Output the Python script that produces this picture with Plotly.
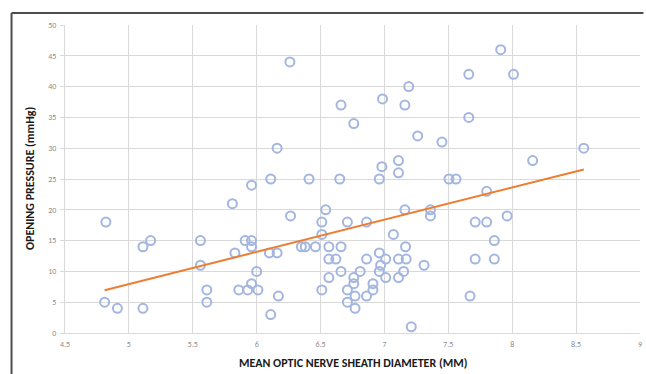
import numpy as np
import plotly.graph_objects as go

# Mean optic nerve sheath diameter (mm)
onsd = [4.82, 4.81, 4.91, 5.11, 5.17, 5.11, 5.56, 5.56, 5.61, 5.61,
        5.81, 5.83, 5.86, 5.91, 5.93, 5.96, 5.96, 5.96, 5.96, 6.00,
        6.01, 6.11, 6.10, 6.11, 6.16, 6.16, 6.17, 6.26, 6.265, 6.35,
        6.38, 6.41, 6.46, 6.51, 6.51, 6.54, 6.51, 6.565, 6.565, 6.62,
        6.565, 6.65, 6.66, 6.66, 6.66, 6.71, 6.71, 6.71, 6.76, 6.76,
        6.76, 6.77, 6.77, 6.81, 6.86, 6.86, 6.86, 6.91, 6.91, 6.96,
        6.985, 6.98, 6.96, 6.97, 6.96, 7.01, 7.01, 7.07, 7.11, 7.11,
        7.11, 7.11, 7.16, 7.19, 7.16, 7.165, 7.17, 7.15, 7.21, 7.26,
        7.31, 7.36, 7.36, 7.45, 7.505, 7.56, 7.66, 7.66, 7.67, 7.71,
        7.71, 7.80, 7.80, 7.86, 7.86, 7.91, 7.96, 8.01, 8.16, 8.56]

# Opening pressure (mmHg)
pressure = [18, 5, 4, 14, 15, 4, 15, 11, 7, 5,
            21, 13, 7, 15, 7, 8, 24, 15, 14, 10,
            7, 25, 13, 3, 30, 13, 6, 44, 19, 14,
            14, 25, 14, 18, 16, 20, 7, 14, 12, 12,
            9, 25, 37, 14, 10, 18, 7, 5, 34, 9,
            8, 6, 4, 10, 18, 12, 6, 8, 7, 25,
            38, 27, 13, 11, 10, 12, 9, 16, 28, 26,
            12, 9, 37, 40, 20, 14, 12, 10, 1, 32,
            11, 20, 19, 31, 25, 25, 42, 35, 6, 18,
            12, 23, 18, 15, 12, 46, 19, 42, 28, 30]

x_ticks = [4.5, 5, 5.5, 6, 6.5, 7, 7.5, 8, 8.5, 9]
y_ticks = [0, 5, 10, 15, 20, 25, 30, 35, 40, 45, 50]

x_title = "MEAN OPTIC NERVE SHEATH DIAMETER (MM)"
y_title = "OPENING PRESSURE (mmHg)"

xa = np.array(onsd)
ya = np.array(pressure)
slope, intercept = np.polyfit(xa, ya, 1)
trend_x = [xa.min(), xa.max()]
trend_y = [slope * v + intercept for v in trend_x]

title_font = dict(family="Carlito, 'Liberation Sans Narrow', Lato, sans-serif",
                  size=12, color="#1a1a1a")
tick_font = dict(family="Carlito, 'Liberation Sans Narrow', Lato, sans-serif",
                 size=8, color="#8c8c8c")

fig = go.Figure()
fig.add_trace(go.Scatter(
    x=onsd, y=pressure, mode="markers",
    marker=dict(symbol="circle-open", size=9, color="#a3b6e0",
                line=dict(width=2, color="#a3b6e0")),
    showlegend=False, hoverinfo="x+y"))
fig.add_trace(go.Scatter(
    x=trend_x, y=trend_y, mode="lines",
    line=dict(color="#ED7D31", width=2), showlegend=False))

fig.update_xaxes(range=[4.5, 9], tickvals=x_ticks, ticktext=[f"{v:g}" for v in x_ticks],
                 showgrid=True, gridcolor="#d9d9d9", gridwidth=1,
                 showline=True, linecolor="#d9d9d9", linewidth=1,
                 zeroline=False, tickfont=tick_font, ticks="", ticklabelstandoff=3)
fig.update_yaxes(range=[0, 50], tickvals=y_ticks,
                 showgrid=True, gridcolor="#d9d9d9", gridwidth=1,
                 showline=True, linecolor="#d9d9d9", linewidth=1,
                 zeroline=False, tickfont=tick_font,
                 ticks="outside", ticklen=4, tickcolor="#d9d9d9", ticklabelstandoff=2)

fig.add_annotation(text=f"<b>{x_title}</b>", xref="paper", yref="paper",
                   x=0.5, y=-0.097, xanchor="center", yanchor="middle",
                   showarrow=False, font=title_font)
fig.add_annotation(text=f"<b>{y_title}</b>", xref="paper", yref="paper",
                   x=-0.0607, y=0.5, xanchor="center", yanchor="middle",
                   textangle=-90, showarrow=False, font=title_font)

# outer frame (left and top edges visible in the picture), kept inside the figure
fig.add_shape(type="line", xref="paper", yref="paper",
              x0=-0.093, x1=-0.093, y0=-0.133, y1=1.039,
              line=dict(color="#4d4d4d", width=2))
fig.add_shape(type="line", xref="paper", yref="paper",
              x0=-0.093, x1=1.006, y0=1.039, y1=1.039,
              line=dict(color="#4d4d4d", width=2))

fig.update_layout(width=646, height=374,
                  margin=dict(l=65, r=4, t=25, b=41),
                  paper_bgcolor="white", plot_bgcolor="white")

fig.write_html("out.html", config={"displayModeBar": False},
               post_script="document.body.style.margin='0';document.body.style.overflow='hidden';")
